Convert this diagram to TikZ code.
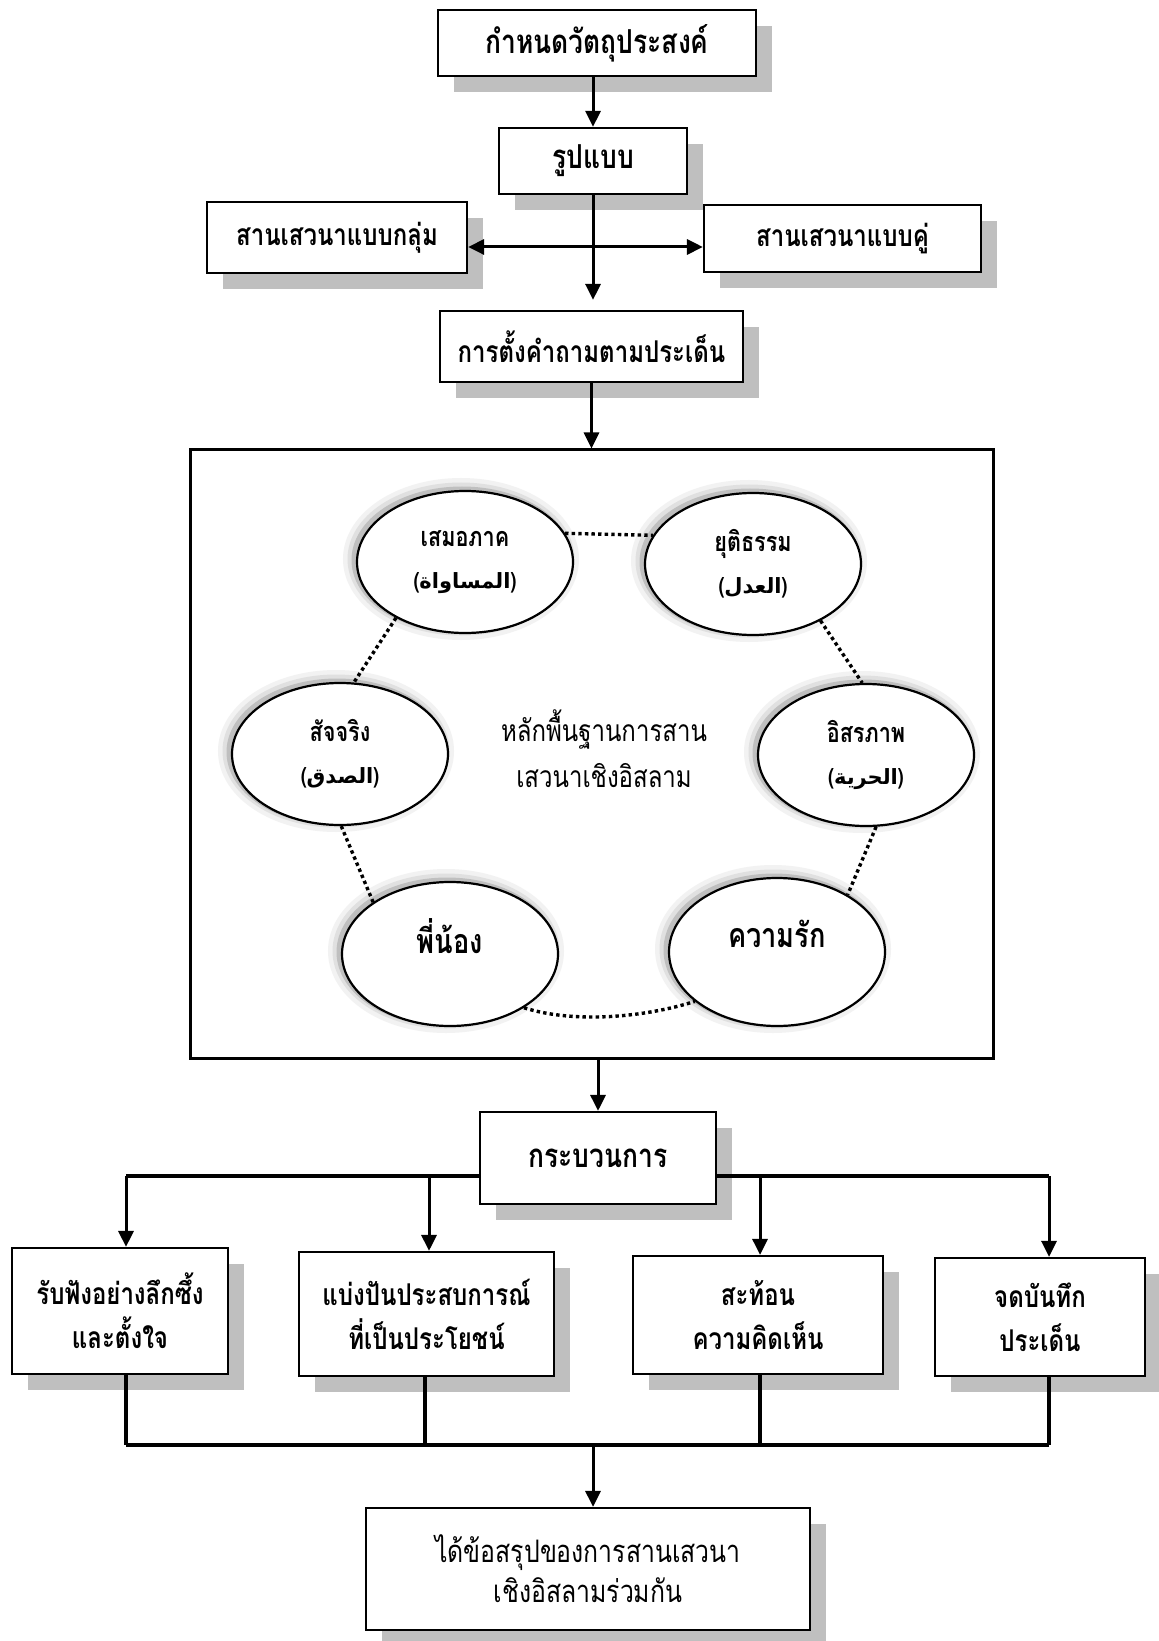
\documentclass[tikz,border=0pt]{standalone}
\usepackage{fontspec}
\TeXXeTstate=1
\newfontfamily\thaifont[Script=Thai,FakeStretch=0.8]{Loma}
\newfontfamily\arabicfont[Script=Arabic]{DejaVu Sans}
\usetikzlibrary{arrows.meta,shadows,shapes.geometric,calc}
\definecolor{shadowgray}{RGB}{191,191,191}
\tikzset{
 box/.style={draw, line width=1.1pt, fill=white, align=center, inner sep=2pt,
   font=\thaifont\bfseries\fontsize{15}{22}\selectfont,
   drop shadow={shadow xshift=8pt, shadow yshift=-8pt, fill=shadowgray, opacity=1}},
 ell/.style={ellipse, draw, line width=1.1pt, fill=white, align=center, inner sep=0pt,
   minimum width=108pt, minimum height=71pt,
   preaction={draw=black!5, line width=10pt, transform canvas={xshift=-2pt,yshift=1.5pt}},
   preaction={draw=black!12, line width=5.5pt, transform canvas={xshift=-2pt,yshift=1.5pt}},
   preaction={draw=black!25, line width=2.5pt, transform canvas={xshift=-1.5pt,yshift=1pt}}},
 arr/.style={line width=1.5pt, -{Triangle[length=8pt,width=7.5pt]}},
 dblarr/.style={line width=1.5pt, {Triangle[length=8pt,width=7.5pt]}-{Triangle[length=8pt,width=7.5pt]}},
 dotln/.style={line width=1.7pt, dash pattern=on 1.7pt off 1.6pt},
 bus/.style={line width=2pt},
 stem/.style={line width=1.6pt},
}
\newcommand{\thl}[1]{{\thaifont\bfseries\fontsize{13.5}{14}\selectfont #1}}
\newcommand{\arl}[1]{{\thaifont\bfseries\fontsize{11}{12}\selectfont(}{\arabicfont\bfseries\fontsize{10.5}{12}\selectfont\beginR #1\endR}{\thaifont\bfseries\fontsize{11}{12}\selectfont)}}
\begin{document}
\begin{tikzpicture}[x=0.5pt,y=-0.5pt]
\useasboundingbox (0,0) rectangle (1158,1641);
\fill[white] (0,0) rectangle (1158,1641);

% top chain
\node[box, minimum width=159pt, minimum height=33pt, font=\thaifont\bfseries\fontsize{16.5}{22}\selectfont] (goal) at (597,43) {กำหนดวัตถุประสงค์};
\node[box, minimum width=94pt, minimum height=33pt, font=\thaifont\bfseries\fontsize{16.5}{22}\selectfont] (form) at (593,161) {รูปแบบ};
\node[box, minimum width=130pt, minimum height=35.5pt] (grp) at (337,237.5) {สานเสวนาแบบกลุ่ม};
\node[box, minimum width=138.5pt, minimum height=33.5pt] (pair) at (842.5,238.5) {สานเสวนาแบบคู่};
\node[box, minimum width=151.5pt, minimum height=35.5pt] (ask) at (591.5,346.5) {การตั้งคำถามตามประเด็น};
\node[draw, line width=1.5pt, minimum width=401.5pt, minimum height=304pt, inner sep=0pt] (core) at (591.5,754) {};

\coordinate (hy) at (0,247);
\draw[arr] (form.south |- goal.south) -- (form.north);
\draw[dblarr] (grp.east |- hy) -- (pair.west |- hy);
\draw[arr, shorten >=5pt] (form.south) -- (form.south |- ask.north);
\draw[arr] (ask.south) -- (ask.south |- core.north);

% ellipses
\node[ell] (e1) at (465,562) {\thl{เสมอภาค}\\[9pt]\arl{المساواة}};
\node[ell] (e2) at (753,564) {\thl{ยุติธรรม}\\[9pt]\arl{العدل}};
\node[ell] (e3) at (340,754) {\thl{สัจจริง}\\[9pt]\arl{الصدق}};
\node[ell] (e4) at (866,755) {\thl{อิสรภาพ}\\[9pt]\arl{الحرية}};
\node[ell, minimum height=72pt] (e5) at (450,954)
  {{\thaifont\bfseries\fontsize{17}{18}\selectfont พี่น้อง}\\[6pt]\mbox{}};
\node[ell, minimum height=74pt] (e6) at (777,952)
  {{\thaifont\bfseries\fontsize{17}{18}\selectfont ความรัก}\\[6pt]\mbox{}};

\node[font=\thaifont\fontsize{15}{23}\selectfont, align=center] (ctr) at (604,749)
  {หลักพื้นฐานการสาน\\เสวนาเชิงอิสลาม};

\draw[dotln] (e1.16) -- (e2.164);
\draw[dotln] (e1.219) -- (e3.79);
\draw[dotln] (e2.-40) -- (e4.93);
\draw[dotln] (e3.-89) -- (e5.146);
\draw[dotln] (e4.-82) -- (e6.39);
\draw[dotln] (e5.-36) .. controls +(50,16) and +(-50,16) .. (e6.-149);

% process
\node[box, minimum width=118pt, minimum height=46pt, font=\thaifont\bfseries\fontsize{16.5}{22}\selectfont] (proc) at (598,1158) {กระบวนการ};
\draw[arr] (proc.north |- core.south) -- (proc.north);

\node[box, minimum width=108pt, minimum height=63pt] (b1) at (120,1311) {รับฟังอย่างลึกซึ้ง\\และตั้งใจ};
\node[box, minimum width=127.5pt, minimum height=62pt] (b2) at (426.5,1314) {แบ่งปันประสบการณ์\\ที่เป็นประโยชน์};
\node[box, minimum width=125pt, minimum height=59pt] (b3) at (758,1315) {สะท้อน\\ความคิดเห็น};
\node[box, minimum width=105pt, minimum height=59pt] (b4) at (1040,1317) {จดบันทึก\\ประเด็น};
\node[box, minimum width=222pt, minimum height=61pt, font=\thaifont\fontsize{15.5}{20}\selectfont] (final) at (588,1569)
  {ได้ข้อสรุปของการสานเสวนา\\เชิงอิสลามร่วมกัน};

\coordinate (a1) at (126,1176);
\coordinate (a2) at (429,1176);
\coordinate (a3) at (760,1176);
\coordinate (a4) at (1049,1176);
\draw[bus] (a1) -- (a1 -| proc.west);
\draw[bus] (a4 -| proc.east) -- (a4);
\draw[arr] (a1) -- (a1 |- b1.north);
\draw[arr] (a2) -- (a2 |- b2.north);
\draw[arr] (a3) -- (a3 |- b3.north);
\draw[arr] (a4) -- (a4 |- b4.north);

\coordinate (d1) at (126,1445);
\coordinate (d2) at (425,1445);
\coordinate (d3) at (760,1445);
\coordinate (d4) at (1049,1445);
\coordinate (dm) at (593,1445);
\draw[stem] (d1 |- b1.south) -- (d1);
\draw[stem] (d2 |- b2.south) -- (d2);
\draw[stem] (d3 |- b3.south) -- (d3);
\draw[stem] (d4 |- b4.south) -- (d4);
\draw[bus] (d1) -- (d4);
\draw[arr] (dm) -- (dm |- final.north);
\end{tikzpicture}
\end{document}
